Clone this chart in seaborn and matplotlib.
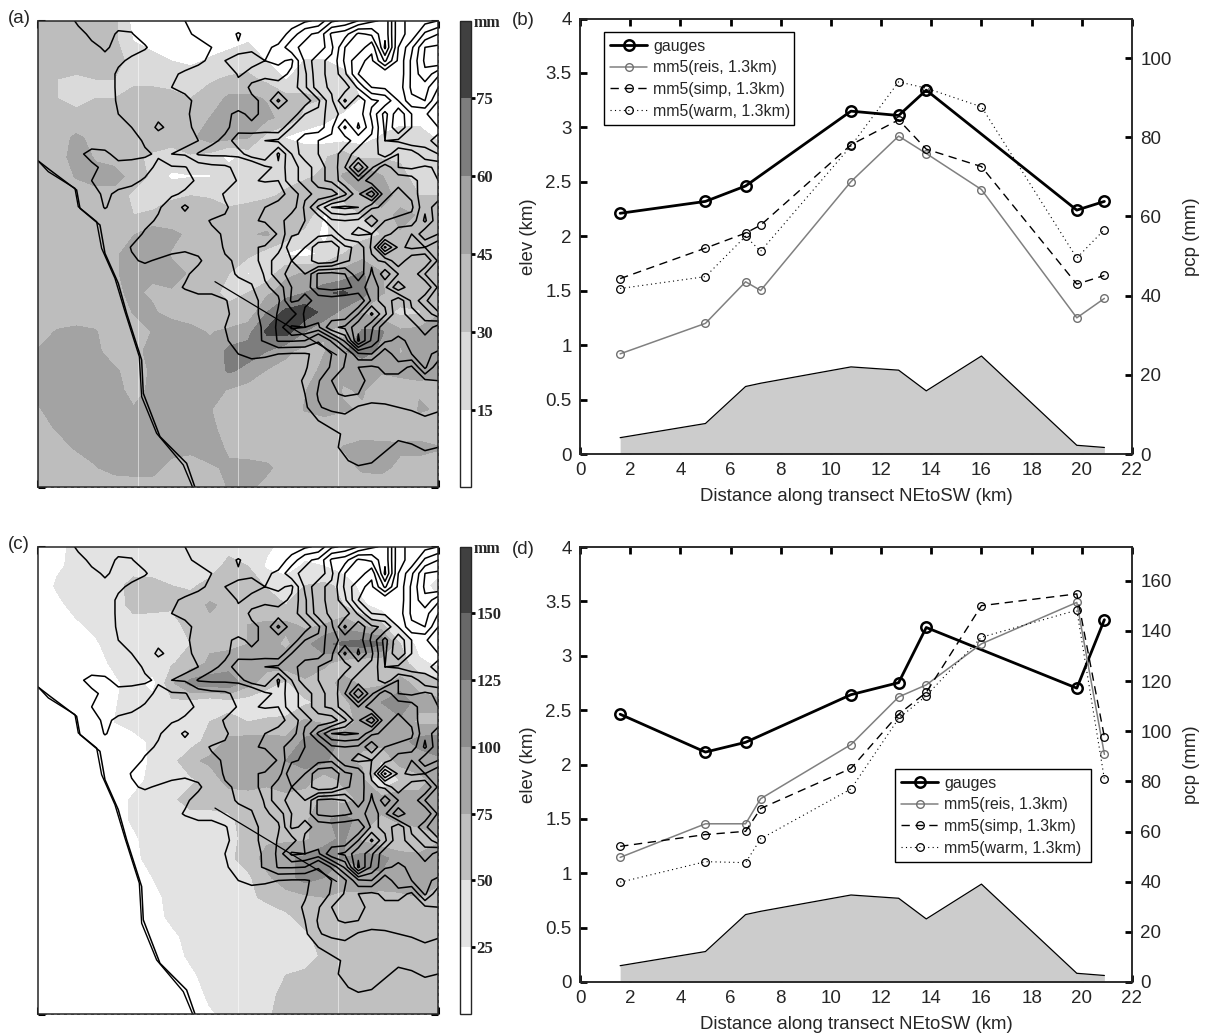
import numpy as np
import matplotlib
matplotlib.use("Agg")
import matplotlib.pyplot as plt
import seaborn as sns

sns.set_style("ticks")
plt.rcParams['font.family'] = ['Liberation Sans', 'DejaVu Sans']

# ---- transect data (km along transect; pcp in mm; elevation in km)
dist_all = [1.6, 5.0, 6.6, 7.2, 10.8, 12.7, 13.8, 16.0, 19.8, 20.9]
dist_gauge = [1.6, 5.0, 6.6, 10.8, 12.7, 13.8, 19.8, 20.9]
elev_km = [0.15, 0.28, 0.62, 0.65, 0.80, 0.77, 0.58, 0.90, 0.08, 0.06]

b_gauges = [60.8, 63.8, 67.7, 86.6, 85.5, 91.9, 61.6, 63.8]
b_reis = [25.3, 33.0, 43.5, 41.3, 68.8, 80.3, 75.9, 66.8, 34.4, 39.3]
b_simp = [44.3, 52.0, 55.8, 57.8, 78.1, 84.4, 77.0, 72.6, 42.9, 45.1]
b_warm = [41.8, 44.8, 55.0, 51.2, 77.8, 94.0, 92.4, 87.7, 49.5, 56.7]

d_gauges = [106.8, 91.7, 95.6, 114.6, 119.4, 141.4, 117.2, 144.5]
d_reis = [49.7, 63.1, 63.1, 73.1, 94.7, 113.7, 118.5, 134.9, 151.4, 90.8]
d_simp = [54.1, 58.8, 60.1, 69.2, 85.2, 106.8, 115.5, 150.1, 154.8, 97.7]
d_warm = [39.8, 48.0, 47.6, 57.1, 77.0, 105.1, 114.2, 137.5, 148.3, 80.9]

# ---- precipitation fields, on a 22 x 25 node mesh
map_x = np.linspace(115, 1315, 22)
map_y = np.linspace(62, 1462, 25)

# ---- terrain field, on a 31 x 36 node mesh
terr_x = np.linspace(115, 1315, 31)
terr_y = np.linspace(62, 1462, 36)
terrain = np.array([
 [0]*3 + [.7,.8,.6,.8,.8,.9,1,1.1,1.5,1.7,1.8,1.9,1.6,1.6,1.9,2,2.2,2.4,2.6,3.4,3.6,4,4.4,4.6,6.4,6.6,6.8,7],
 [0]*3 + [.2,.7,.8,.4,.45,.9,1,1.1,1.4,1.6,1.8,2,2.6,2,2,2.2,2.7,3.4,3.6,4.6,4.8,5.6,5.4,4.6,6.4,6.6,7.6,8],
 [0]*4 + [.3,.6,.3,.3,.4,1,1.1,1.2,1.3,1.5,2.3,2.4,2.4,2.4,2.6,3.4,3.6,3.6,4.4,5.5,5.6,6.4,4.4,6.5,7.4,8.5,8.6],
 [0]*5 + [.3,.4,.6,1,1,1.1,1.2,1.4,1.6,2.5,2.6,2.7,2.5,2.6,2.4,3.6,4.4,4.6,5.6,6.4,6.6,5.4,6.6,7.6,8.6,9],
 [0]*5 + [.2,.6,.9,1,1.1,1.4,1.6,1.7,1.7,1.7,2.6,2.3,2.4,2.3,2.6,3.4,4.4,4.6,5.4,6.5,6.6,7,6.6,7.6,8.4,7.6],
 [0]*5 + [.2,.6,.9,1,1.1,1.5,1.6,1.7,1.7,1.8,2.2,2.6,2.7,2.7,2.7,3.4,4.3,4.6,4.7,5.6,6.5,6.6,6.7,7.6,7.7,7],
 [0]*5 + [.1,.6,.9,1,1.1,1.2,1.4,1.6,1.7,1.9,2.2,2.4,2.6,3.6,2.7,2.7,3.4,4.4,5.6,4.6,5.4,5.6,6.5,7.4,7.5,6.5],
 [0]*5 + [.1,.5,.8,1,1.2,1.2,1.45,1.6,1.7,2.4,2.6,2.4,2.6,2.6,2.6,3.5,3.6,4.4,4.6,4.7,5.6,6.7,5.6,6.5,6.6,6],
 [0]*6 + [.2,.5,.9,1.7,1.2,1.4,1.6,1.9,2.4,2.7,2.6,2.7,2.6,3.5,3.6,3.7,4.4,5.6,4.4,5.4,6.6,5.5,6.5,7,6.5],
 [0]*7 + [.2,.6,.9,1.2,1.4,1.5,2.4,2.6,3.4,3.5,3.5,3.6,3.7,4.4,4.5,4.6,4.7,5.4,5.6,6.5,6.6,7,6.6,7.5],
 [0]*3 + [.3,.8,.7,.2,.2,.4,.6,1.5,1.6,2.6,2.7,2.7,2.7,3.4,3.5,2.4,3.5,4.4,4.5,4.6,5.4,5.6,5.6,6.4,5.5,5.6,6.4,6.5],
 [0]*3 + [.2,.3,.7,.8,.9,.8,.3,.4,.45,.9,1.2,1.3,1.8,1.7,2.4,2.6,3.4,3.6,4.4,4.6,5.5,7,5.6,4.6,5.5,5.6,5.4,5.6],
 [0]*2 + [0,.1,.5,.8,.7,.7,.4,.2,.2,.3,.6,.8,.9,1.6,2.4,2.6,2.5,3.4,3.6,4.4,4.6,5.4,5.5,4.6,4.5,4.6,4.7,5.4,5.5],
 [0]*3 + [.05,.3,.6,.4,.2,.1,.2,.4,.6,.9,1,1.6,2.4,2.4,1.6,2.4,2.6,3.4,3.6,3.7,4.4,5.4,6.4,4.6,4.4,4.6,5.5,5.4],
 [0]*5 + [.55,.2,.1,.1,.4,.9,1.7,.9,.6,1.4,1.8,2.2,2.5,2.6,2.7,3.6,4.6,5.5,5.6,5.5,4.6,4.4,4.3,4.4,5.4,4.6],
 [0]*6 + [.05,.1,.3,.6,.9,1,1.1,1.6,1.6,1.8,2.4,2.6,2.7,3.4,3.5,3.6,4.4,4.5,4.4,3.6,4.5,4.6,4.7,5.6,4.6],
 [0]*6 + [.02,.15,.6,.9,1,1.1,1.2,1.3,1.6,1.7,2.4,1.8,2.6,3.4,3.6,3.7,3.6,4.4,4.6,4.5,4.7,5.4,5.5,4.6,5],
 [0]*6 + [.05,.55,.9,1,.7,.6,.7,1,1.6,1.7,2.4,2.6,2.7,4,3.5,2.6,2.5,3.4,3.6,4.6,6.6,5.4,5.6,5.5,6],
 [0]*6 + [0,.4,.6,.4,.3,.3,.4,.8,1.4,1.6,2.4,2.6,3.4,3.5,3.4,2.6,2.7,3.4,3.7,4.4,4.6,5.4,4.6,4.5,5.6],
 [0]*7 + [.05,.1,.1,.2,.4,.7,1,1.2,1.6,1.8,2.6,3.4,3.6,3.5,4.6,4.7,4.5,3.6,4.6,3.7,4.5,4.6,5.5,5.7],
 [0]*7 + [0,.1,.1,.3,.55,.7,.6,.9,1.2,1.4,2.4,2.7,3.5,3.6,4.6,4.7,4.6,4.4,4.6,4.4,5.4,4.6,4.5,5.6],
 [0]*8 + [.02,.05,.1,.2,.3,.4,.45,.8,1.4,1.6,2.4,3.6,3.4,3.6,3.7,3.6,3.5,4.6,4.4,3.6,4.6,5.4,6],
 [0]*9 + [.02,.05,.1,.2,.3,.4,.7,1.3,1.7,2.6,2.7,3.6,3.7,3.6,3.6,4.5,5.6,4.6,3.6,4.4,4.6,5.4],
 [0]*10 + [.02,.05,.1,.2,.5,.8,1,1.7,2.7,3.6,3.5,3.4,4.4,4.6,5.4,4.6,3.6,3.7,3.6,4.4,3.7],
 [0]*10 + [0,.02,.05,.1,.4,.8,1.2,1.6,2.6,2.6,2.5,1.6,2.6,3.6,5.6,4.4,3.6,3.4,3.6,3.7,3.8],
 [0]*12 + [.02,.05,.2,.5,.7,.6,.5,.4,.4,.7,1.5,2.4,3.4,3.5,2.6,3.4,3.5,3.6,3.4],
 [0]*14 + [.05,.1,.15,.2,.2,.3,.4,1,1.6,2.6,2.5,2.4,2.6,2.7,2.4,3.6,2.6],
 [0]*17 + [.05,.1,.2,.6,1.4,2.5,2.6,2.6,2.4,2.4,2.3,2.4,2.4,2.5],
 [0]*18 + [.05,.1,.5,1.6,2.4,2.6,2.5,1.9,1.8,1.7,1.8,2.2,2.3],
 [0]*18 + [.02,.05,.3,1.4,1.8,2,1.4,1.3,1.4,1.5,1.6,1.7,1.6],
 [0]*19 + [.02,.1,.5,.8,1,1.1,1.2,1.3,1.2,1.2,1.4,1.3],
 [0]*20 + [.02,.2,.3,.6,.9,1,1.1,.8,.8,.9,.8],
 [0]*22 + [.3,.7,.9,1,.7,.2,.4,.6,.5],
 [0]*22 + [.05,.4,.8,.6,.1,.05,.05,.2,.1],
 [0]*31,
 [0]*31,
])

pcp_a = np.array([
 [32,32,38,38,33,10,8,8,8,8,8,8,8,8,8,8,8,8,8,8,8,8],
 [32,36,38,36,33,14,8,8,8,8,10,14,8,8,10,8,8,8,8,8,8,8],
 [32,34,36,34,32,28,20,14,10,16,20,22,14,8,15,15,10,8,8,8,8,10],
 [34,30,28,30,30,28,28,26,26,28,32,34,26,14,24,24,20,10,8,8,8,8],
 [34,30,28,30,30,33,33,33,30,36,48,48,44,35,32,30,22,14,8,8,8,8],
 [36,34,32,34,36,42,38,32,30,45,46,48,48,40,26,18,12,8,8,8,8,8],
 [36,38,48,40,36,38,36,34,42,52,50,46,24,14,8,8,8,8,16,24,24,12],
 [36,40,50,44,40,32,28,26,28,24,10,20,28,30,26,28,38,26,28,28,28,28],
 [36,38,46,48,50,40,26,12,14,14,26,30,26,26,28,32,46,62,46,34,24,30],
 [35,36,38,42,40,26,24,28,30,28,22,26,28,32,38,36,34,44,52,40,30,30],
 [34,36,36,36,34,30,32,36,40,42,36,36,40,44,40,14,20,30,40,48,44,36],
 [34,34,34,34,36,44,54,48,42,38,40,44,46,38,24,12,24,26,30,44,40,42],
 [34,34,34,34,40,58,52,44,40,36,42,34,24,14,10,18,30,38,34,42,40,38],
 [34,34,34,36,44,48,46,48,44,38,30,14,20,42,46,44,50,62,46,34,40,42],
 [34,34,34,36,44,46,44,44,42,32,28,30,42,52,60,72,78,66,46,40,42,44],
 [36,38,38,38,34,46,46,42,40,36,32,34,60,80,85,70,55,44,36,26,28,42],
 [40,46,48,46,36,34,46,50,48,44,48,55,78,82,60,46,38,62,62,48,50,58],
 [46,48,50,50,34,40,50,52,50,48,64,66,60,48,40,44,58,68,56,44,50,58],
 [48,50,50,50,48,36,48,50,50,50,62,56,44,40,36,50,48,46,46,50,46,48],
 [48,50,50,50,50,40,48,50,52,50,44,38,36,36,44,56,44,46,40,36,44,40],
 [44,50,52,52,50,46,46,50,50,46,36,34,38,36,46,50,46,44,40,34,46,44],
 [40,46,50,52,52,50,48,50,50,48,40,38,36,36,34,36,38,38,36,38,40,38],
 [36,40,46,50,52,52,52,52,50,48,44,38,36,38,38,36,46,50,50,48,48,46],
 [36,36,38,44,50,52,52,38,34,44,46,50,48,38,36,34,36,48,50,40,40,36],
 [36,36,36,36,36,36,36,34,34,36,46,48,40,36,34,34,34,34,34,34,34,34],
])

pcp_c = np.array([
 [10,20,30,30,30,40,30,35,45,40,40,40,30,15,10,10,10,10,10,10,10,10],
 [10,22,30,35,35,40,38,34,38,34,60,50,20,10,30,25,10,10,10,10,10,10],
 [12,28,32,35,42,58,58,50,45,60,70,60,48,42,50,55,45,15,10,10,10,35],
 [12,20,32,35,38,58,55,52,64,78,70,56,60,50,70,68,50,30,12,10,10,10],
 [10,12,22,30,38,40,42,45,55,70,72,75,78,80,70,75,90,70,55,15,10,10],
 [10,10,12,22,35,40,40,42,50,70,70,75,85,70,90,120,130,140,130,50,15,10],
 [10,10,10,15,30,35,40,48,60,80,85,80,85,90,90,80,60,50,50,65,30,20],
 [10,10,10,15,20,35,15,70,110,115,120,85,60,45,70,60,85,70,70,80,70,60],
 [10,10,10,12,22,40,35,45,40,30,38,35,30,25,45,55,70,85,100,125,80,80],
 [10,10,10,10,25,35,35,35,30,50,60,50,55,60,80,70,60,85,90,90,70,70],
 [10,10,10,10,10,15,30,35,38,60,80,85,85,80,105,125,90,80,85,90,110,115],
 [10,10,10,10,10,10,30,40,70,80,80,90,95,100,110,105,80,70,50,85,85,95],
 [10,10,10,10,10,12,35,35,45,60,85,80,80,100,85,60,80,85,15,50,70,80],
 [10,10,10,10,12,30,35,45,60,60,60,70,65,60,60,80,65,80,90,95,80,85],
 [10,10,10,10,12,30,35,38,40,40,45,60,65,60,70,95,110,90,70,80,85,90],
 [10,10,10,10,10,20,38,35,35,38,40,60,70,70,70,90,105,70,50,55,60,70],
 [10,10,10,10,10,18,35,35,35,35,45,60,85,95,105,115,100,110,110,85,80,90],
 [10,10,10,10,10,12,25,32,35,35,40,45,70,90,110,100,85,90,95,90,85,85],
 [10,10,10,10,10,10,15,35,35,35,35,45,55,65,70,75,70,70,65,70,75,60],
 [10,10,10,10,10,10,12,32,35,35,35,35,38,45,60,75,70,72,60,50,55,60],
 [10,10,10,10,10,10,12,18,35,35,35,35,35,38,45,60,65,70,50,55,75,75],
 [10,10,10,10,10,10,10,14,30,35,35,35,35,35,38,55,60,60,55,55,55,60],
 [10,10,10,10,10,10,10,12,20,35,35,35,35,50,55,58,60,60,55,55,55,60],
 [10,10,10,10,10,10,10,10,12,30,35,38,45,55,60,60,60,60,60,60,60,60],
 [10,10,10,10,10,10,10,10,10,22,30,38,48,55,60,60,60,60,60,60,60,60],
])

coast_x = [115,150,230,240,300,315,355,380,425,430,480,560,585]
coast_y = [483,510,570,625,675,760,850,940,1080,1180,1310,1390,1462]
coast2_x = [115,145,225,235,290,305,345,375,418,425,470,550,578]
coast2_y = [483,515,565,620,665,745,835,935,1070,1190,1300,1395,1462]
transect_x = [645, 1010]
transect_y = [845, 1065]
seam_x = [415, 715, 1015]

levels_a = [0, 15, 30, 45, 60, 75, 90]
levels_c = [0, 25, 50, 75, 100, 125, 150, 175]
colors_a = ['#ffffff', '#dadada', '#bdbdbd', '#a3a3a3', '#7d7d7d', '#404040']
colors_c = ['#ffffff', '#e3e3e3', '#c0c0c0', '#a6a6a6', '#8c8c8c', '#686868', '#404040']
terrain_levels = [.5, 1.5, 2.5, 3, 3.5, 4, 4.5, 5, 5.5, 6, 6.5, 7, 7.5, 8, 8.5]

W, H = 1210, 1035
fig = plt.figure(figsize=(W/100, H/100), dpi=100)

def rect(x0, y0, x1, y1):
    return [x0/W, 1-y1/H, (x1-x0)/W, (y1-y0)/H]

def draw_map(box, cbox, field, levels, colors, letter):
    ax = fig.add_axes(rect(*box))
    cf = ax.contourf(map_x, map_y, field, levels=levels, colors=colors)
    for sx in seam_x:
        ax.axvline(sx, color='white', lw=0.6, alpha=.6)
    ax.contour(terr_x, terr_y, terrain, levels=terrain_levels, colors='black', linewidths=1.1)
    ax.plot(coast_x, coast_y, color='black', lw=1.1)
    ax.plot(coast2_x, coast2_y, color='black', lw=1.0)
    ax.plot(transect_x, transect_y, color='black', lw=0.9)
    ax.set_xlim(115, 1315)
    ax.set_ylim(1462, 62)
    ax.set_xticks(np.arange(115, 1316, 20))
    ax.set_yticks(np.arange(62, 1463, 20))
    ax.tick_params(direction='in', length=5, width=2.2, color='black', top=True, right=True,
                   bottom=True, left=True, labelbottom=False, labelleft=False)
    for s in ax.spines.values():
        s.set_linewidth(1.1)
    cax = fig.add_axes(rect(*cbox))
    cb = fig.colorbar(cf, cax=cax, ticks=levels[1:-1], drawedges=False)
    cb.ax.tick_params(length=3, width=2, color='black', right=True, labelsize=12, pad=1, direction='out')
    for t in cb.ax.get_yticklabels():
        t.set_family(['Liberation Serif', 'DejaVu Serif'])
        t.set_fontweight('bold')
    cb.outline.set_linewidth(1)
    fig.text((cbox[2]+3)/W, 1-(cbox[1]+2)/H, 'mm', fontsize=11.5, fontweight='bold',
             family=['Liberation Serif', 'DejaVu Serif'], va='center', ha='left')
    fig.text(8/W, 1-(box[1]-2)/H, letter, fontsize=13.5, va='center', ha='left')

def draw_transect(box, gauges, reis, simp, warm, top, rticks, legend_box, letter):
    ax = fig.add_axes(rect(*box))
    ax.fill_between(dist_all, 0, elev_km, color='#cccccc', lw=0)
    sns.lineplot(x=dist_all, y=elev_km, ax=ax, color='black', lw=0.9, errorbar=None, legend=False)
    ax.set_xlim(0, 22)
    ax.set_ylim(0, 4)
    ax.set_xticks(np.arange(0, 23, 2))
    ax.set_yticks(np.arange(0, 4.01, .5))
    ax.set_yticklabels(['0', '0.5', '1', '1.5', '2', '2.5', '3', '3.5', '4'])
    ax.tick_params(direction='in', length=5, width=2, color='black', top=True, bottom=True, left=True,
                   labelsize=13.5, pad=6)
    ax.set_xlabel('Distance along transect NEtoSW (km)', fontsize=13.4, labelpad=6)
    ax.set_ylabel('elev (km)', fontsize=13.4, labelpad=6)

    tw = ax.twinx()
    sns.lineplot(x=dist_gauge, y=gauges, ax=tw, color='black', lw=2, marker='o', ms=7.5,
                 markerfacecolor='none', markeredgecolor='black', markeredgewidth=1.8,
                 errorbar=None, label='gauges')
    sns.lineplot(x=dist_all, y=reis, ax=tw, color='#808080', lw=1.1, marker='o', ms=5.5,
                 markerfacecolor='none', markeredgecolor='#707070', markeredgewidth=1,
                 errorbar=None, label='mm5(reis, 1.3km)')
    sns.lineplot(x=dist_all, y=simp, ax=tw, color='black', lw=1, linestyle=(0, (6, 4)), marker='o', ms=5.5,
                 markerfacecolor='none', markeredgecolor='black', markeredgewidth=.9,
                 errorbar=None, label='mm5(simp, 1.3km)')
    sns.lineplot(x=dist_all, y=warm, ax=tw, color='black', lw=.8, linestyle=(0, (1, 3)), marker='o', ms=5.5,
                 markerfacecolor='none', markeredgecolor='black', markeredgewidth=.9,
                 errorbar=None, label='mm5(warm, 1.3km)')
    tw.set_ylim(0, top)
    tw.set_yticks(rticks)
    tw.tick_params(direction='in', length=5, width=2, color='black', right=True, labelsize=13.5, pad=6)
    tw.set_ylabel('pcp (mm)', fontsize=13.4, labelpad=8)
    tw.set_xlabel('')
    for a in (ax, tw):
        for s in a.spines.values():
            s.set_visible(True)
            s.set_linewidth(1.1)
    x0, y0, x1, y1 = box
    lx0, ly0, lx1, ly1 = legend_box
    leg = tw.legend(loc='lower left',
                    bbox_to_anchor=((lx0-x0)/(x1-x0), (y1-ly1)/(y1-y0), (lx1-lx0)/(x1-x0), (ly1-ly0)/(y1-y0)),
                    mode='expand', fontsize=11.4, fancybox=False, framealpha=1, edgecolor='black',
                    borderaxespad=0, borderpad=.4, labelspacing=.42, handlelength=2.3, handletextpad=.4)
    leg.get_frame().set_linewidth(1)
    fig.text((x0-68)/W, 1-(y0+2)/H, letter, fontsize=13.5, va='center', ha='left')

draw_map((38.3, 20.7, 438.3, 487.3), (460, 20.7, 470.7, 487.3), pcp_a, levels_a, colors_a, '(a)')
draw_map((38.3, 546.7, 438.3, 1014), (460, 546.7, 470.7, 1014), pcp_c, levels_c, colors_c, '(c)')
draw_transect((580, 18.5, 1132, 454), b_gauges, b_reis, b_simp, b_warm, 110,
              [0, 20, 40, 60, 80, 100], (604, 32, 794, 125), '(b)')
draw_transect((580, 547, 1132, 982), d_gauges, d_reis, d_simp, d_warm, 173.5,
              [0, 20, 40, 60, 80, 100, 120, 140, 160], (895, 771, 1091, 862), '(d)')

fig.savefig('out.png', dpi=100)
